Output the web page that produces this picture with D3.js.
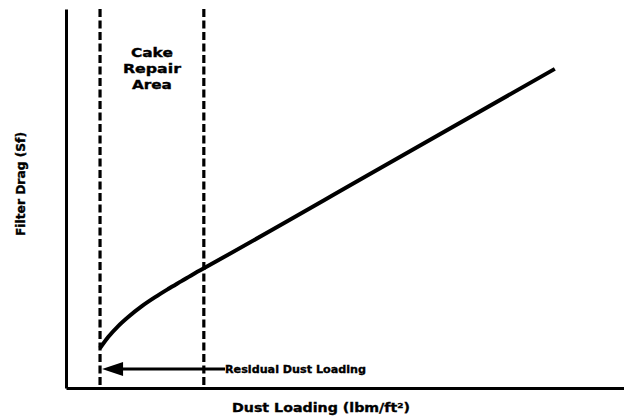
<!DOCTYPE html>
<html>
<head>
<meta charset="utf-8">
<script src="https://cdn.jsdelivr.net/npm/d3@7"></script>
<style>
  html, body { margin: 0; padding: 0; background: #fff; }
  svg { display: block; }
  text { font-family: "DejaVu Sans", Verdana, sans-serif; font-weight: bold; fill: #000; stroke: #000; stroke-width: 0.35px; }
</style>
</head>
<body>
<svg id="chart" width="624" height="419"></svg>
<script>
// Filter drag curve: dust loading (x) vs. filter drag (y), arbitrary units
const dustLoading = [6.1, 7.6, 9.4, 11.2, 13.6, 15.9, 18.3, 20.7, 23.1, 24.7, 56.2, 87.6];
const filterDrag  = [10.5, 13.5, 16.4, 18.8, 21.6, 23.9, 26.1, 28.2, 30.3, 31.6, 57.9, 84.2];

// Boundaries of the cake repair area (residual loading and end of repair)
const boundaries = [6.1, 24.7];
const regionLabel = ["Cake", "Repair", "Area"];
const regionLabelWidths = [42, 58, 40];

// Residual dust loading arrow: from/to dust loading, at drag level
const arrowFrom = 28.5;
const arrowTo = 6.1;
const arrowLevel = 5.0;
const arrowLabel = "Residual Dust Loading";

const xTitle = "Dust Loading (lbm/ft\u00B2)";
const yTitle = "Filter Drag (Sf)";

const svg = d3.select("#chart");
const margin = { left: 66, right: 0, top: 9, bottom: 31 };
const W = 624, H = 419;

const x = d3.scaleLinear().domain([0, 100]).range([margin.left, W - margin.right]);
const y = d3.scaleLinear().domain([0, 100]).range([H - margin.bottom, margin.top]);

// Axes: plain lines, no ticks
svg.append("g")
  .attr("transform", `translate(0,${y(0)})`)
  .call(d3.axisBottom(x).ticks(0).tickSize(0))
  .call(g => g.select(".domain").attr("stroke", "#000").attr("stroke-width", 3));
svg.append("g")
  .attr("transform", `translate(${x(0)},0)`)
  .call(d3.axisLeft(y).ticks(0).tickSize(0))
  .call(g => g.select(".domain").attr("stroke", "#000").attr("stroke-width", 3));

// Dashed boundary lines
svg.selectAll("line.boundary")
  .data(boundaries)
  .join("line")
  .attr("class", "boundary")
  .attr("x1", d => x(d)).attr("x2", d => x(d))
  .attr("y1", y(100)).attr("y2", y(0))
  .attr("stroke", "#000")
  .attr("stroke-width", 3.2)
  .attr("stroke-dasharray", "8,3.5");

// Drag curve
const pts = dustLoading.map((d, i) => [d, filterDrag[i]]);
svg.append("path")
  .datum(pts)
  .attr("fill", "none")
  .attr("stroke", "#000")
  .attr("stroke-width", 4)
  .attr("stroke-linecap", "butt")
  .attr("d", d3.line().x(d => x(d[0])).y(d => y(d[1])).curve(d3.curveMonotoneX));

// Region label
const midX = (x(boundaries[0]) + x(boundaries[1])) / 2;
svg.selectAll("text.region")
  .data(regionLabel)
  .join("text")
  .attr("class", "region")
  .attr("x", midX)
  .attr("y", (d, i) => 57 + i * 16)
  .attr("text-anchor", "middle")
  .attr("font-size", 12.5)
  .attr("textLength", (d, i) => regionLabelWidths[i])
  .attr("lengthAdjust", "spacingAndGlyphs")
  .text(d => d);

// Residual dust loading arrow
const ay = y(arrowLevel);
const headLen = 21, headHalf = 7;
svg.append("line")
  .attr("x1", x(arrowFrom)).attr("x2", x(arrowTo) + headLen - 1)
  .attr("y1", ay).attr("y2", ay)
  .attr("stroke", "#000").attr("stroke-width", 3);
svg.append("path")
  .attr("d", `M${x(arrowTo) + 2},${ay} L${x(arrowTo) + 2 + headLen},${ay - headHalf} L${x(arrowTo) + 2 + headLen},${ay + headHalf} Z`)
  .attr("fill", "#000");
svg.append("text")
  .attr("x", x(arrowFrom))
  .attr("y", ay + 4)
  .attr("font-size", 10.5)
  .attr("textLength", 141)
  .attr("lengthAdjust", "spacingAndGlyphs")
  .text(arrowLabel);

// Axis titles
svg.append("text")
  .attr("x", 321)
  .attr("y", 412)
  .attr("text-anchor", "middle")
  .attr("font-size", 12.5)
  .attr("textLength", 178)
  .attr("lengthAdjust", "spacingAndGlyphs")
  .text(xTitle);
svg.append("text")
  .attr("transform", "translate(25,184) rotate(-90)")
  .attr("text-anchor", "middle")
  .attr("font-size", 11.5)
  .attr("textLength", 104)
  .attr("lengthAdjust", "spacingAndGlyphs")
  .text(yTitle);
</script>
</body>
</html>
